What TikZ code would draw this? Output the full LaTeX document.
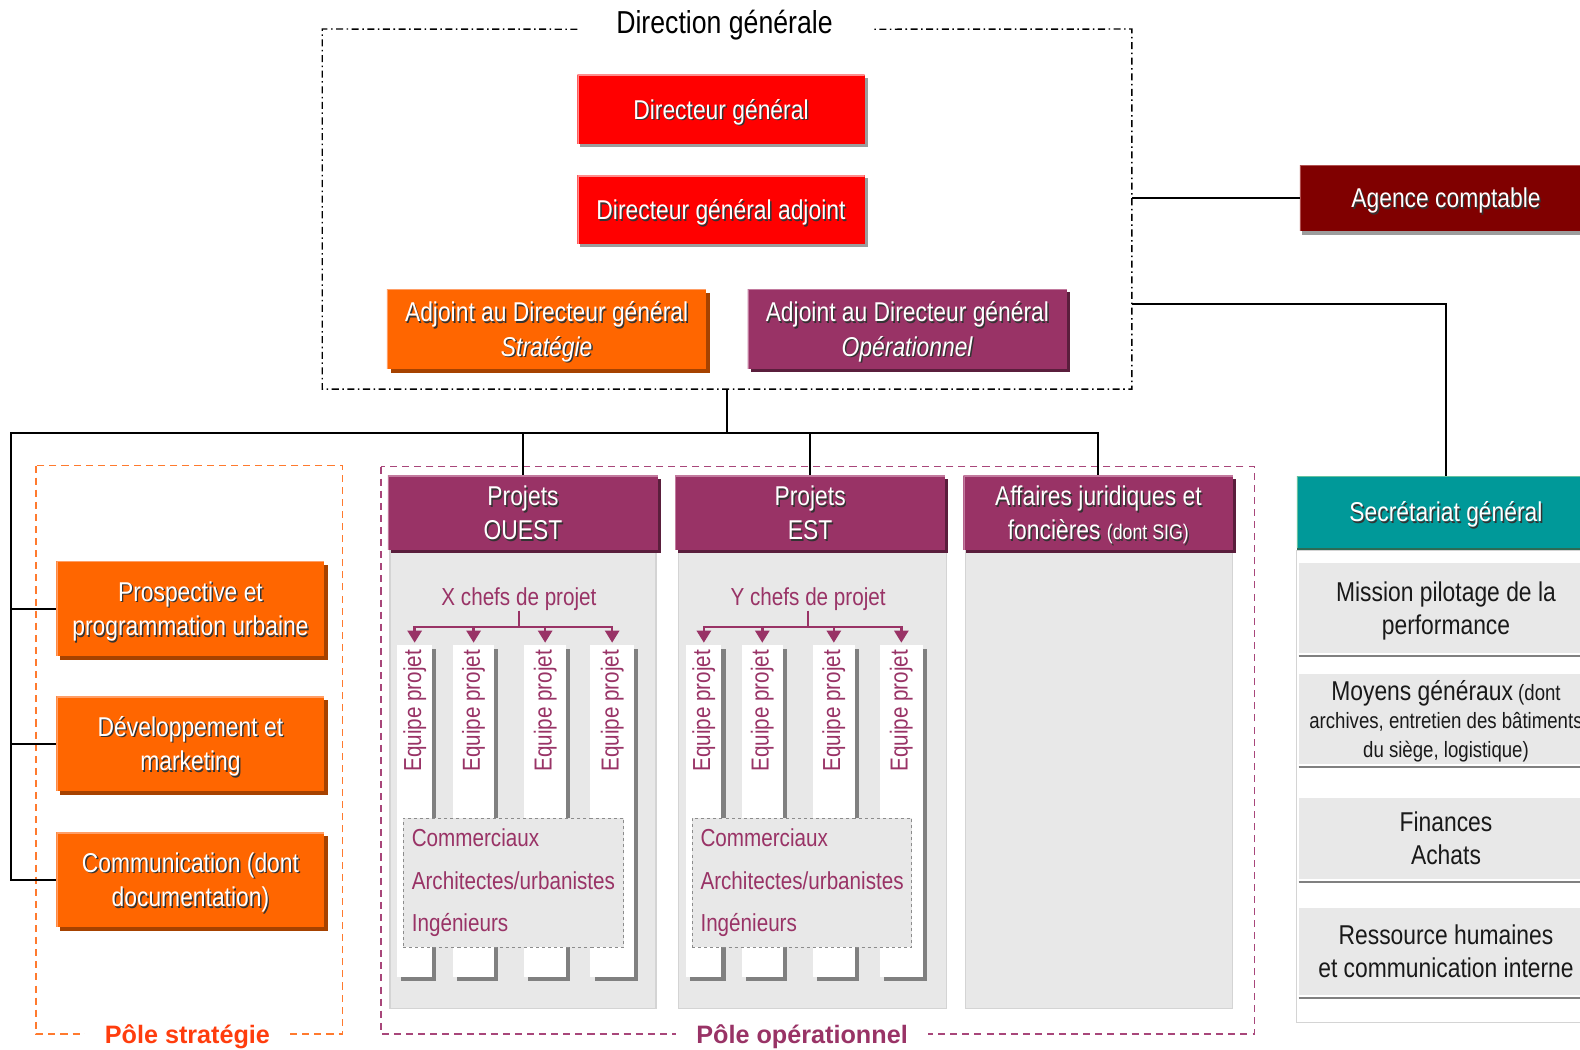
\documentclass[tikz,border=0pt]{standalone}
\usepackage{fontspec}
\setmainfont{Liberation Sans}[FakeStretch=0.84]
\newfontfamily\wide{Liberation Sans}
\usetikzlibrary{shadows,arrows.meta}
\definecolor{dgred}{HTML}{FF0000}
\definecolor{orng}{HTML}{FF6600}
\definecolor{orngdk}{HTML}{A64200}
\definecolor{orngl}{HTML}{FF9E66}
\definecolor{purp}{HTML}{993366}
\definecolor{purpdk}{HTML}{5A1E3C}
\definecolor{purpl}{HTML}{C27A9E}
\definecolor{maroonc}{HTML}{800000}
\definecolor{maroonl}{HTML}{B05050}
\definecolor{tealc}{HTML}{009999}
\definecolor{tealdk}{HTML}{2D6B55}
\definecolor{teall}{HTML}{66C2A0}
\definecolor{colgray}{HTML}{E8E8E8}
\definecolor{colborder}{HTML}{D4D4D4}
\definecolor{shgray}{HTML}{9C9C9C}
\definecolor{bargray}{HTML}{808080}
\definecolor{pstrat}{HTML}{FF7A2E}
\definecolor{pstratlbl}{HTML}{FF3D0D}
\definecolor{popdash}{HTML}{A8467A}
\newcommand\sh[1]{\leavevmode\rlap{\kern1.4pt\raisebox{-1.4pt}{\textcolor{black!80}{#1}}}#1}
\begin{document}
\begin{tikzpicture}[x=1pt,y=-1pt,
  conn/.style={line width=2pt, draw=black},
  dashdot/.style={line width=1.4pt, dash pattern=on 7pt off 3.5pt on 1.5pt off 3.5pt},
  lbl/.style={inner sep=0pt, align=center, text=white, text depth=-3pt, font=\fontsize{27}{34}\selectfont},
  bevel/.style={path picture={\draw[#1,line width=2.4pt] (path picture bounding box.south west) -- (path picture bounding box.north west) -- (path picture bounding box.north east);}},
  redbox/.style={lbl, fill=dgred, bevel=red!45!white, general shadow={fill=shgray, shadow xshift=3pt, shadow yshift=-3pt}},
  orbox/.style={lbl, fill=orng, bevel=orngl, general shadow={fill=orngdk, shadow xshift=4pt, shadow yshift=-4pt}},
  pubox/.style={lbl, fill=purp, bevel=purpl, general shadow={fill=purpdk, shadow xshift=3pt, shadow yshift=-3pt}},
  agbox/.style={lbl, fill=maroonc, bevel=maroonl, general shadow={fill=shgray, shadow xshift=2pt, shadow yshift=-4pt}},
  sgbox/.style={lbl, fill=tealc, bevel=teall, general shadow={fill=tealdk, shadow xshift=0pt, shadow yshift=-3pt}},
  col/.style={fill=colgray, draw=colborder, line width=1.2pt, inner sep=0pt},
  bar/.style={fill=white, inner sep=0pt, general shadow={fill=bargray, shadow xshift=4pt, shadow yshift=-4pt}},
  eqlbl/.style={rotate=90, anchor=east, inner sep=0pt, text=purp, font=\fontsize{24.4}{28}\selectfont},
  team/.style={fill=colgray, draw=gray!90, dashed, line width=1.1pt, inner sep=0pt, align=left, text=purp, font=\fontsize{24.4}{42.5}\selectfont},
  chef/.style={inner sep=0pt, text=purp, font=\fontsize{24.4}{28}\selectfont},
  tree/.style={line width=2.5pt, draw=purp},
  treearrow/.style={tree, -{Triangle[width=14pt,length=12pt]}, shorten >=2pt},
  row/.style={fill=colgray, inner sep=0pt, align=center, text=black!90, text depth=-3pt, font=\fontsize{27}{33}\selectfont},
  sepline/.style={line width=2.5pt, draw=bargray},
  pole/.style={fill=white, inner xsep=20pt, inner ysep=1pt, font=\wide\bfseries\fontsize{25}{28}\selectfont}
]
\useasboundingbox (0,0) rectangle (1568,1042);
\clip (0,0) rectangle (1568,1042);

% Pole frames
\draw[pstrat, dashed, line width=1.6pt, dash pattern=on 7pt off 5pt] (36,462) rectangle (340,1026);
\draw[popdash, dashed, line width=1.6pt, dash pattern=on 7pt off 5pt] (378,463) rectangle (1245,1026);
\node[pole, text=pstratlbl] (ps) at (186,1029) {Pôle stratégie};
\node[pole, text=purp] (po) at (796,1029) {Pôle opérationnel};

% Direction generale frame
\node[minimum width=803pt, minimum height=357pt, inner sep=0pt] (dir) at (721.5,207.5) {};
\node[inner sep=0pt, font=\fontsize{31.5}{34}\selectfont] (dirt) at (719,25) {Direction générale};
\draw[dashdot] (573,29) -- (dir.north west) -- (dir.south west) -- (dir.south east) -- (dir.north east) -- (865,29);

\node[redbox, minimum width=285pt, minimum height=69pt] (dg) at (715.5,108.5) {\sh{Directeur général}};
\node[redbox, minimum width=285pt, minimum height=68pt] (dga) at (715.5,208) {\sh{Directeur général adjoint}};
\node[orbox, minimum width=317pt, minimum height=79pt] (ads) at (542.5,326.5) {\sh{Adjoint au Directeur général}\\\sh{\textit{Stratégie}}};
\node[pubox, minimum width=317pt, minimum height=79pt] (ado) at (900.5,326.5) {\sh{Adjoint au Directeur général}\\\sh{\textit{Opérationnel}}};

% Agence comptable & Secretariat
\node[agbox, minimum width=290pt, minimum height=65pt] (ag) at (1435,196.5) {\sh{Agence comptable}};
\node[sgbox, minimum width=296pt, minimum height=71pt] (sg) at (1435,508) {\sh{Secrétariat général}};

% right panel
\draw[draw=colborder, fill=white, line width=1.2pt] (1287,546) rectangle (1600,1015);
\node[row, minimum width=292pt, minimum height=89pt] (mis) at (1435,603.5) {Mission pilotage de la\\performance};
\node[row, minimum width=292pt, minimum height=89pt, font=\fontsize{22}{28.5}\selectfont] (moy) at (1435,713.5) {{\fontsize{27}{28.5}\selectfont Moyens généraux} (dont\\archives, entretien des bâtiments\\du siège, logistique)};
\node[row, minimum width=292pt, minimum height=80pt] (fin) at (1435,832) {Finances\\Achats};
\node[row, minimum width=292pt, minimum height=86pt] (rh) at (1435,944) {Ressource humaines\\et communication interne};
\foreach \r in {mis,moy,fin,rh}
  \draw[sepline] ([yshift=-3pt]\r.south west) -- ([yshift=-3pt]\r.south east);

% Pole strategie boxes
\node[orbox, minimum width=266pt, minimum height=94pt] (pro) at (189,604) {\sh{Prospective et}\\\sh{programmation urbaine}};
\node[orbox, minimum width=266pt, minimum height=94pt] (dev) at (189,738) {\sh{Développement et}\\\sh{marketing}};
\node[orbox, minimum width=266pt, minimum height=94pt] (com) at (189,873) {\sh{Communication (dont}\\\sh{documentation)}};

% Pole operationnel columns
\node[col, minimum width=264pt, minimum height=455pt] (ocol) at (519,773.5) {};
\node[col, minimum width=266pt, minimum height=455pt] (ecol) at (806,773.5) {};
\node[col, minimum width=265pt, minimum height=455pt] (acol) at (1090.5,773.5) {};

\node[pubox, minimum width=268pt, minimum height=74pt] (ouest) at (519,509) {\sh{Projets}\\\sh{OUEST}};
\node[pubox, minimum width=268pt, minimum height=74pt] (est) at (804,509) {\sh{Projets}\\\sh{EST}};
\node[pubox, minimum width=268pt, minimum height=74pt] (aff) at (1090,509) {\sh{Affaires juridiques et}\\\sh{foncières {\fontsize{21}{34}\selectfont (dont SIG)}}};

% team bars
\node[bar, minimum width=35pt, minimum height=330pt] (b1) at (411.5,805) {};
\node[bar, minimum width=40pt, minimum height=330pt] (b2) at (470,805) {};
\node[bar, minimum width=42pt, minimum height=330pt] (b3) at (541,805) {};
\node[bar, minimum width=43pt, minimum height=330pt] (b4) at (607.5,805) {};
\node[bar, minimum width=35pt, minimum height=330pt] (c1) at (698.5,805) {};
\node[bar, minimum width=41pt, minimum height=330pt] (c2) at (756.5,805) {};
\node[bar, minimum width=41pt, minimum height=330pt] (c3) at (827.5,805) {};
\node[bar, minimum width=43pt, minimum height=330pt] (c4) at (894.5,805) {};
\foreach \b in {b1,b2,b3,b4,c1,c2,c3,c4}
  \node[eqlbl] (t\b) at ([yshift=-5pt]\b.north) {Equipe projet};

\node[team, minimum width=219pt, minimum height=128pt] (oteam) at (509.5,876) {Commerciaux\\Architectes/urbanistes\\Ingénieurs};
\node[team, minimum width=218pt, minimum height=128pt] (eteam) at (796,876) {Commerciaux\\Architectes/urbanistes\\Ingénieurs};

% chefs de projet trees
\node[chef] (xc) at (515,594.5) {X chefs de projet};
\node[chef] (yc) at (802,594.5) {Y chefs de projet};
\coordinate (xj) at (515,622);
\coordinate (yj) at (802,622);
\draw[tree] (xc.south) -- (xj);
\draw[tree] (yc.south) -- (yj);
\foreach \b in {b1,b2,b3,b4} \draw[treearrow] (xj) -| (\b.north);
\foreach \b in {c1,c2,c3,c4} \draw[treearrow] (yj) -| (\b.north);

% connectors
\coordinate (busL) at (11,430);
\draw[conn] (dir.south) |- (busL) |- (com.west);
\draw[conn] (busL) |- (pro.west);
\draw[conn] (busL) |- (dev.west);
\draw[conn] (dir.south |- busL) -| (aff.north);
\draw[conn] (ouest.north |- busL) -- (ouest.north);
\draw[conn] (est.north |- busL) -- (est.north);
\draw[conn] (ag.west) -- (ag.west -| dir.east);
\coordinate (sgk) at (1123,302);
\draw[conn] (sgk) -| (sg.north);
\end{tikzpicture}
\end{document}
